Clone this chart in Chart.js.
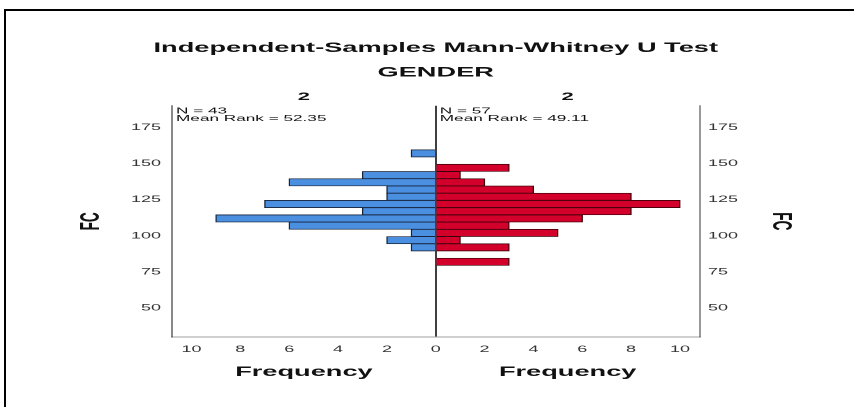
<!DOCTYPE html>
<html>
<head>
<meta charset="utf-8">
<script src="https://cdn.jsdelivr.net/npm/chart.js@4/dist/chart.umd.min.js"></script>
<style>
  html, body { margin: 0; padding: 0; background: #fff; overflow: hidden; width: 854px; height: 407px; }
  #frame { position: absolute; left: 4px; top: 9px; width: 900px; height: 500px; border: 2px solid #000; box-sizing: border-box; }
  /* the chart is laid out at half width and widened, giving the broad lettering of the output */
  #wrap { position: absolute; left: 0; top: 0; width: 427px; height: 407px; transform: scaleX(2); transform-origin: 0 0; }
</style>
</head>
<body>
<div id="frame"></div>
<div id="wrap"><canvas id="c"></canvas></div>
<script>
// FC bins (bin midpoints, width 5)
const binCenters = [157, 152, 147, 142, 137, 132, 127, 122, 117, 112, 107, 102, 97, 92, 87, 82];
// frequencies per bin for each group
const leftCounts  = [1, 0, 0, 3, 6, 2, 2, 7, 3, 9, 6, 1, 2, 1, 0, 0];
const rightCounts = [0, 0, 3, 1, 2, 4, 8, 10, 8, 6, 3, 5, 1, 3, 0, 3];
const yTicks = [50, 75, 100, 125, 150, 175];
const xTicks = [-10, -8, -6, -4, -2, 0, 2, 4, 6, 8, 10];
const titleLines = ['Independent-Samples Mann-Whitney U Test', 'GENDER'];
const panelLabels = ['2', '2'];
const leftStats = ['N = 43', 'Mean Rank = 52.35'];
const rightStats = ['N = 57', 'Mean Rank = 49.11'];
const yTitle = 'FC';
const xTitle = 'Frequency';

const FAMILY = '"Liberation Sans", Arial, Helvetica, sans-serif';

const annotate = {
  id: 'annotate',
  afterDraw(chart) {
    const { ctx, chartArea: a, scales } = chart;
    const x0 = scales.x.getPixelForValue(0);
    const cx = (a.left + a.right) / 2;
    const lc = (a.left + x0) / 2;
    const rc = (x0 + a.right) / 2;
    ctx.save();
    ctx.fillStyle = '#111';
    ctx.textBaseline = 'middle';
    ctx.textAlign = 'center';

    ctx.font = 'bold 13.6px ' + FAMILY;
    ctx.fillText(titleLines[0], cx, 48);
    ctx.fillText(titleLines[1], cx, 72.5);

    ctx.font = 'bold 11px ' + FAMILY;
    ctx.fillText(panelLabels[0], lc, 97);
    ctx.fillText(panelLabels[1], rc, 97);

    ctx.textAlign = 'left';
    ctx.font = '8.6px ' + FAMILY;
    ctx.fillText(leftStats[0], a.left + 2, 111.3);
    ctx.fillText(leftStats[1], a.left + 2, 118.7);
    ctx.fillText(rightStats[0], x0 + 2, 111.3);
    ctx.fillText(rightStats[1], x0 + 2, 118.7);

    ctx.textAlign = 'center';
    ctx.font = 'bold 13.6px ' + FAMILY;
    ctx.fillText(xTitle, lc, 372);
    ctx.fillText(xTitle, rc, 372);

    const my = (a.top + a.bottom) / 2;
    ctx.save();
    ctx.translate(45.5, my);
    ctx.rotate(-Math.PI / 2);
    ctx.fillText(yTitle, 0, 0);
    ctx.restore();
    ctx.save();
    ctx.translate(390, my);
    ctx.rotate(Math.PI / 2);
    ctx.fillText(yTitle, 0, 0);
    ctx.restore();

    ctx.restore();
  }
};

const tickFont = { family: FAMILY, size: 9 };
const setY = s => { s.ticks = yTicks.map(v => ({ value: v })); };

new Chart(document.getElementById('c'), {
  type: 'bar',
  data: {
    datasets: [
      {
        label: 'left',
        data: binCenters.map((c, i) => ({ y: c, x: -leftCounts[i] })),
        backgroundColor: '#4a8fe0',
        borderColor: '#16233a',
        borderWidth: { top: 0.8, bottom: 0.8, left: 0.7, right: 0.7 },
        grouped: false,
        barPercentage: 1,
        categoryPercentage: 1,
        xAxisID: 'x',
        yAxisID: 'y'
      },
      {
        label: 'right',
        data: binCenters.map((c, i) => ({ y: c, x: rightCounts[i] })),
        backgroundColor: '#d3002c',
        borderColor: '#3a0008',
        borderWidth: { top: 0.8, bottom: 0.8, left: 0.7, right: 0.7 },
        grouped: false,
        barPercentage: 1,
        categoryPercentage: 1,
        xAxisID: 'x',
        yAxisID: 'y'
      }
    ]
  },
  options: {
    indexAxis: 'y',
    responsive: true,
    maintainAspectRatio: false,
    devicePixelRatio: 2,
    animation: false,
    layout: { padding: { top: 105.7, left: 0, right: 0, bottom: 0 } },
    plugins: { legend: { display: false }, tooltip: { enabled: false }, title: { display: false } },
    scales: {
      x: {
        type: 'linear',
        min: -10.8,
        max: 10.8,
        offset: false,
        afterBuildTicks: s => { s.ticks = xTicks.map(v => ({ value: v })); },
        afterFit: s => { s.height = 70; },
        grid: {
          drawTicks: false,
          color: c => (c.tick && c.tick.value === 0 ? '#000' : 'rgba(0,0,0,0)'),
          lineWidth: 0.75
        },
        border: { display: true, color: '#a0a0a0', width: 1 },
        ticks: {
          padding: 7,
          color: '#333',
          font: tickFont,
          maxRotation: 0,
          autoSkip: false,
          callback: v => String(Math.abs(v))
        }
      },
      y: {
        type: 'linear',
        position: 'left',
        min: 30,
        max: 190,
        offset: false,
        afterBuildTicks: setY,
        afterFit: s => { s.width = 86; },
        grid: { display: false, drawTicks: false, offset: false },
        border: { display: true, color: '#3a3a3a', width: 0.6 },
        ticks: { padding: 5.5, color: '#333', font: tickFont }
      },
      yR: {
        type: 'linear',
        position: 'right',
        min: 30,
        max: 190,
        offset: false,
        afterBuildTicks: setY,
        afterFit: s => { s.width = 77.25; },
        grid: { display: false, drawTicks: false, offset: false },
        border: { display: true, color: '#555', width: 0.6 },
        ticks: { padding: 4.25, color: '#333', font: tickFont }
      }
    }
  },
  plugins: [annotate]
});
</script>
</body>
</html>
